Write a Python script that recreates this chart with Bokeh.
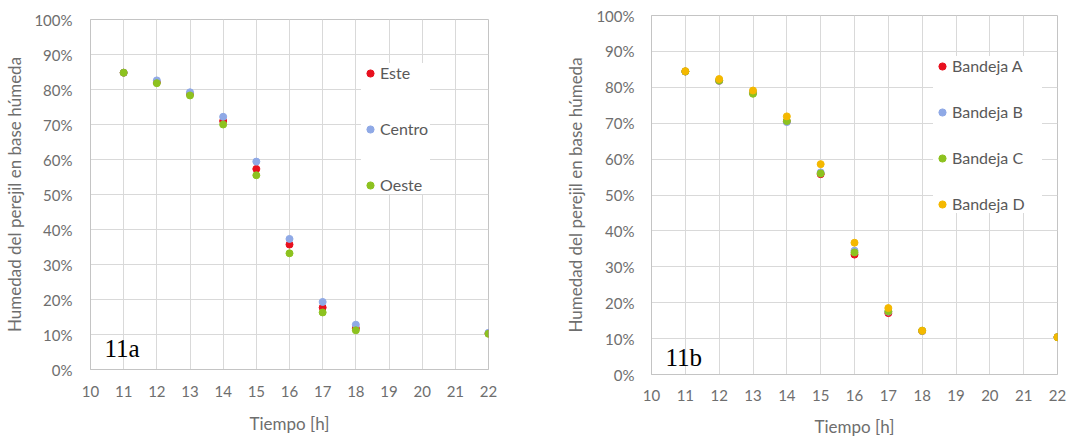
from bokeh.plotting import figure
from bokeh.layouts import row, column
from bokeh.models import FixedTicker, PrintfTickFormatter, Label, Range1d
from bokeh.embed import file_html
from bokeh.resources import INLINE

# ---- data ----
hours = [11, 12, 13, 14, 15, 16, 17, 18, 22]
x_ticks = list(range(10, 23))
y_ticks = list(range(0, 101, 10))

este = [84.8, 82.1, 78.7, 71.0, 57.3, 35.7, 17.7, 11.8, 10.3]
centro = [84.8, 82.6, 79.2, 72.2, 59.4, 37.3, 19.3, 12.8, 10.5]
oeste = [84.8, 81.8, 78.3, 70.0, 55.5, 33.2, 16.3, 11.2, 10.2]

bandeja_a = [84.4, 81.8, 78.5, 70.5, 55.8, 33.4, 17.1, 12.1, 10.4]
bandeja_b = [84.4, 81.8, 78.6, 70.3, 56.3, 34.5, 17.5, 12.1, 10.4]
bandeja_c = [84.4, 81.9, 78.2, 70.6, 56.0, 34.0, 17.6, 12.2, 10.4]
bandeja_d = [84.5, 82.3, 79.1, 71.9, 58.6, 36.7, 18.5, 12.2, 10.4]

left_series = [("Este", este, "#E8101E"), ("Centro", centro, "#8FA9E6"), ("Oeste", oeste, "#8DC21F")]
right_series = [("Bandeja A", bandeja_a, "#E8101E"), ("Bandeja B", bandeja_b, "#8FA9E6"),
                ("Bandeja C", bandeja_c, "#8DC21F"), ("Bandeja D", bandeja_d, "#F4B800")]

FONT = "Lato"
TICK_COLOR = "#6e6e6e"
GRID = "#d9d9d9"
BORDER = "#c4c4c4"


def make(series, width, height, borders, x_std, y_std, xt_std, yt_std, tag, leg):
    mb_left, mb_right, mb_top, mb_bottom = borders
    p = figure(width=width, height=height, output_backend="svg", toolbar_location=None,
               x_range=Range1d(10, 22), y_range=Range1d(0, 100),
               min_border_left=mb_left, min_border_right=mb_right,
               min_border_top=mb_top, min_border_bottom=mb_bottom)
    p.outline_line_color = BORDER
    p.outline_line_width = 1
    p.background_fill_color = "white"
    p.border_fill_color = "white"

    p.xaxis.ticker = FixedTicker(ticks=x_ticks)
    p.yaxis.ticker = FixedTicker(ticks=y_ticks)
    p.yaxis.formatter = PrintfTickFormatter(format="%d%%")
    for ax in (p.xaxis, p.yaxis):
        ax.axis_line_color = BORDER
        ax.major_tick_line_color = None
        ax.minor_tick_line_color = None
        ax.major_tick_out = 0
        ax.major_tick_in = 0
        ax.minor_tick_out = 0
        ax.minor_tick_in = 0
        ax.major_label_text_font = FONT
        ax.major_label_text_font_size = "15px"
        ax.major_label_text_color = TICK_COLOR
        ax.axis_label_text_font = FONT
        ax.axis_label_text_font_size = "17px"
        ax.axis_label_text_font_style = "normal"
        ax.axis_label_text_color = TICK_COLOR
    p.xaxis.major_label_standoff = x_std
    p.yaxis.major_label_standoff = y_std
    p.xaxis.axis_label = "Tiempo [h]"
    p.yaxis.axis_label = "Humedad del perejil en base húmeda"
    p.xaxis.axis_label_standoff = xt_std
    p.yaxis.axis_label_standoff = yt_std

    p.xgrid.grid_line_color = GRID
    p.ygrid.grid_line_color = GRID
    p.xgrid.ticker = FixedTicker(ticks=x_ticks)
    p.ygrid.ticker = FixedTicker(ticks=y_ticks)

    for name, vals, color in series:
        p.scatter(hours, vals, size=7, color=color, line_color=color, legend_label=name)

    leg_loc, leg_pad, leg_spacing, leg_label_width = leg
    lg = p.legend[0]
    lg.location = leg_loc
    lg.border_line_color = None
    lg.background_fill_color = "white"
    lg.background_fill_alpha = 1.0
    lg.padding = leg_pad
    lg.margin = 0
    lg.spacing = leg_spacing
    lg.glyph_width = 18
    lg.glyph_height = 18
    lg.label_height = 18
    lg.label_width = leg_label_width
    lg.label_standoff = 1
    lg.label_text_font = FONT
    lg.label_text_font_size = "16px"
    lg.label_text_color = "#595959"

    p.add_layout(Label(x=14, y=tag[1], x_units="screen", y_units="screen", text=tag[0],
                       text_font="Liberation Serif", text_font_size="25px",
                       text_color="black"))
    return p


p1 = make(left_series, 545, 439, (90, 57, 19, 70), 16, 18, 13, 6, ("11a", 8),
          ((271, 175), 16, 37, 50))
p2 = make(right_series, 535, 439, (106, 23, 15, 65), 15, 17, 12, 7, ("11b", 4),
          ((282, 161), 11, 27, 90))

layout = row(column(p1), column(p2))
open("out.html", "w").write(file_html(layout, INLINE))
